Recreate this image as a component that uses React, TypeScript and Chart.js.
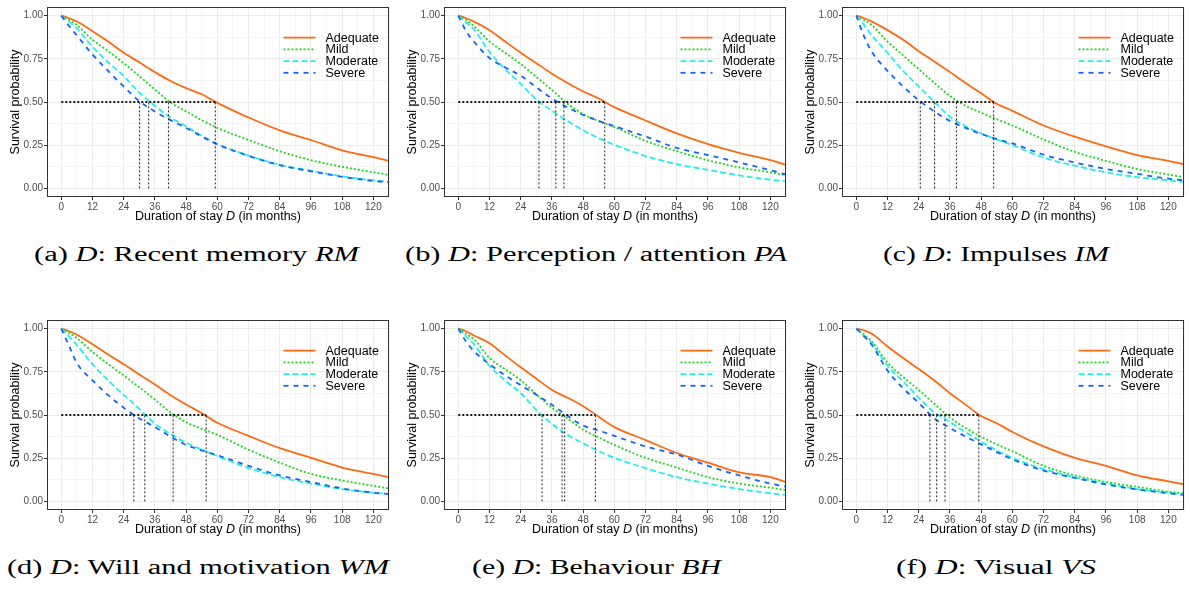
import React, { useEffect, useLayoutEffect, useRef } from 'react';
import { Chart, registerables } from 'chart.js';

Chart.register(...registerables);

// ---------- data ----------
const months = [0, 3, 6, 12, 18, 24, 30, 36, 42, 48, 54, 60, 72, 84, 96, 108, 120, 126];
const groups = ['Adequate', 'Mild', 'Moderate', 'Severe'];
const xMajorTicks = [0, 12, 24, 36, 48, 60, 72, 84, 96, 108, 120];
const yMajorTicks = [0, 0.25, 0.5, 0.75, 1];
const yAxisTitle = 'Survival probability';
const xAxisTitleParts: [string, boolean][] = [['Duration of stay ', false], ['D', true], [' (in months)', false]];

// (a) Recent memory RM
const rmAdequate = [1, 0.985, 0.966, 0.91, 0.85, 0.785, 0.73, 0.673, 0.622, 0.58, 0.545, 0.495, 0.41, 0.336, 0.28, 0.22, 0.181, 0.159];
const rmMild = [1, 0.975, 0.945, 0.86, 0.795, 0.725, 0.65, 0.572, 0.498, 0.445, 0.395, 0.35, 0.28, 0.215, 0.163, 0.125, 0.093, 0.078];
const rmModerate = [1, 0.965, 0.925, 0.82, 0.73, 0.65, 0.555, 0.478, 0.41, 0.36, 0.305, 0.257, 0.19, 0.137, 0.102, 0.07, 0.046, 0.038];
const rmSevere = [1, 0.94, 0.885, 0.775, 0.68, 0.59, 0.505, 0.445, 0.395, 0.35, 0.3, 0.255, 0.188, 0.134, 0.099, 0.067, 0.043, 0.035];
const rmMedians = [59.2, 41.2, 33.6, 30.1];

// (b) Perception / attention PA
const paAdequate = [1, 0.985, 0.965, 0.916, 0.85, 0.785, 0.725, 0.664, 0.61, 0.561, 0.52, 0.47, 0.393, 0.318, 0.256, 0.206, 0.163, 0.136];
const paMild = [1, 0.975, 0.94, 0.85, 0.785, 0.72, 0.645, 0.57, 0.49, 0.43, 0.39, 0.355, 0.275, 0.215, 0.163, 0.121, 0.093, 0.075];
const paModerate = [1, 0.96, 0.92, 0.79, 0.69, 0.605, 0.515, 0.449, 0.39, 0.336, 0.29, 0.252, 0.187, 0.14, 0.107, 0.075, 0.05, 0.041];
const paSevere = [1, 0.91, 0.85, 0.755, 0.7, 0.652, 0.585, 0.52, 0.468, 0.425, 0.39, 0.36, 0.3, 0.234, 0.193, 0.15, 0.105, 0.08];
const paMedians = [56.3, 40.6, 31.0, 37.5];

// (c) Impulses IM
const imAdequate = [1, 0.985, 0.965, 0.916, 0.86, 0.794, 0.735, 0.673, 0.61, 0.551, 0.49, 0.449, 0.364, 0.299, 0.243, 0.193, 0.159, 0.14];
const imMild = [1, 0.975, 0.945, 0.85, 0.77, 0.69, 0.61, 0.535, 0.478, 0.438, 0.4, 0.364, 0.283, 0.211, 0.159, 0.112, 0.08, 0.065];
const imModerate = [1, 0.945, 0.885, 0.785, 0.68, 0.59, 0.502, 0.415, 0.36, 0.318, 0.283, 0.25, 0.178, 0.131, 0.093, 0.065, 0.047, 0.037];
const imSevere = [1, 0.88, 0.79, 0.68, 0.59, 0.51, 0.445, 0.39, 0.35, 0.315, 0.285, 0.26, 0.195, 0.15, 0.112, 0.084, 0.056, 0.047];
const imMedians = [52.8, 38.5, 30.1, 24.6];

// (d) Will and motivation WM
const wmAdequate = [1, 0.985, 0.965, 0.91, 0.85, 0.794, 0.735, 0.677, 0.615, 0.561, 0.51, 0.455, 0.379, 0.308, 0.252, 0.196, 0.159, 0.14];
const wmMild = [1, 0.975, 0.945, 0.865, 0.795, 0.729, 0.66, 0.589, 0.515, 0.458, 0.42, 0.385, 0.299, 0.224, 0.159, 0.121, 0.09, 0.075];
const wmModerate = [1, 0.955, 0.905, 0.794, 0.7, 0.617, 0.535, 0.449, 0.39, 0.34, 0.3, 0.262, 0.193, 0.14, 0.103, 0.071, 0.05, 0.041];
const wmSevere = [1, 0.9, 0.8, 0.7, 0.615, 0.542, 0.48, 0.43, 0.375, 0.327, 0.295, 0.267, 0.206, 0.15, 0.112, 0.075, 0.05, 0.043];
const wmMedians = [55.7, 43.0, 32.1, 27.9];

// (e) Behaviour BH
const bhAdequate = [1, 0.985, 0.96, 0.916, 0.845, 0.776, 0.71, 0.645, 0.6, 0.551, 0.49, 0.43, 0.355, 0.28, 0.224, 0.168, 0.14, 0.112];
const bhMild = [1, 0.97, 0.94, 0.83, 0.765, 0.701, 0.62, 0.542, 0.48, 0.415, 0.37, 0.327, 0.252, 0.196, 0.14, 0.103, 0.079, 0.065];
const bhModerate = [1, 0.955, 0.91, 0.785, 0.7, 0.626, 0.53, 0.449, 0.385, 0.336, 0.29, 0.252, 0.192, 0.14, 0.103, 0.071, 0.047, 0.037];
const bhSevere = [1, 0.925, 0.87, 0.794, 0.73, 0.673, 0.617, 0.56, 0.495, 0.439, 0.41, 0.379, 0.318, 0.271, 0.206, 0.15, 0.103, 0.085];
const bhMedians = [52.7, 39.9, 32.2, 40.9];

// (f) Visual VS
const vsAdequate = [1, 0.99, 0.97, 0.897, 0.83, 0.766, 0.7, 0.626, 0.56, 0.494, 0.452, 0.402, 0.318, 0.252, 0.206, 0.15, 0.116, 0.099];
const vsMild = [1, 0.965, 0.925, 0.804, 0.72, 0.645, 0.565, 0.485, 0.425, 0.374, 0.33, 0.29, 0.206, 0.15, 0.112, 0.084, 0.056, 0.047];
const vsModerate = [1, 0.96, 0.915, 0.785, 0.695, 0.6, 0.515, 0.46, 0.4, 0.346, 0.295, 0.252, 0.187, 0.14, 0.103, 0.071, 0.05, 0.041];
const vsSevere = [1, 0.955, 0.905, 0.757, 0.655, 0.57, 0.48, 0.425, 0.375, 0.33, 0.285, 0.243, 0.178, 0.136, 0.098, 0.069, 0.047, 0.037];
const vsMedians = [47.1, 34.1, 30.9, 28.3];

type Part = [string, boolean];
const panels: { caption: Part[]; series: number[][]; medians: number[] }[] = [
  { caption: [['(a) ', false], ['D', true], [': Recent memory ', false], ['RM', true]], series: [rmAdequate, rmMild, rmModerate, rmSevere], medians: rmMedians },
  { caption: [['(b) ', false], ['D', true], [': Perception / attention ', false], ['PA', true]], series: [paAdequate, paMild, paModerate, paSevere], medians: paMedians },
  { caption: [['(c) ', false], ['D', true], [': Impulses ', false], ['IM', true]], series: [imAdequate, imMild, imModerate, imSevere], medians: imMedians },
  { caption: [['(d) ', false], ['D', true], [': Will and motivation ', false], ['WM', true]], series: [wmAdequate, wmMild, wmModerate, wmSevere], medians: wmMedians },
  { caption: [['(e) ', false], ['D', true], [': Behaviour ', false], ['BH', true]], series: [bhAdequate, bhMild, bhModerate, bhSevere], medians: bhMedians },
  { caption: [['(f) ', false], ['D', true], [': Visual ', false], ['VS', true]], series: [vsAdequate, vsMild, vsModerate, vsSevere], medians: vsMedians },
];

// ---------- styles / layout ----------
const groupColors = ['#FF6A10', '#1DD81D', '#22EEEE', '#1565F2'];
const groupDashes = [[], [2, 2], [6, 3], [5, 5]];
const SANS = '"Liberation Sans", Arial, Helvetica, sans-serif';
const colChartLeft = [47, 444, 842];
const rowCanvasTop = [0, 313];
const Y_AXIS_W = 47;
const CHART_W = 342;
const CANVAS_W = 392;
const CANVAS_H = 227;
const captionBoxes = [
  [34, 359, 244], [405, 787, 244], [883, 1109, 244],
  [7, 389, 557], [472, 721, 557], [896, 1096, 557],
];

const xAllTicks = [...xMajorTicks, ...xMajorTicks.map((v) => v + 6)].sort((a, b) => a - b);
const yAllTicks = [...yMajorTicks, ...yMajorTicks.map((v) => v + 0.125)].filter((v) => v <= 1.0001).sort((a, b) => a - b);
const isMajorX = (v: number) => xMajorTicks.includes(v);
const isMajorY = (v: number) => yMajorTicks.some((t) => Math.abs(t - v) < 1e-9);

const framePlugin = {
  id: 'frameAndXTitle',
  afterDraw(chart: any) {
    const { ctx, chartArea: a } = chart;
    ctx.save();
    ctx.setLineDash([]);
    ctx.strokeStyle = '#333333';
    ctx.lineWidth = 1;
    const l = Math.round(a.left) + 0.5;
    const t = Math.round(a.top) + 0.5;
    const r = Math.round(a.right) - 0.5;
    const b = Math.round(a.bottom) - 0.5;
    ctx.strokeRect(l, t, r - l, b - t);
    const fonts = xAxisTitleParts.map(([, it]) => `${it ? 'italic ' : ''}12.5px ${SANS}`);
    let total = 0;
    const widths = xAxisTitleParts.map(([txt], i) => {
      ctx.font = fonts[i];
      const w = ctx.measureText(txt).width;
      total += w;
      return w;
    });
    let x = (a.left + a.right) / 2 - total / 2;
    const y = a.bottom + 20;
    ctx.fillStyle = '#000';
    ctx.textBaseline = 'middle';
    ctx.textAlign = 'left';
    xAxisTitleParts.forEach(([txt], i) => {
      ctx.font = fonts[i];
      ctx.fillText(txt, x, y);
      x += widths[i];
    });
    ctx.restore();
  },
};

const legendPlugin = {
  id: 'insideLegend',
  afterDraw(chart: any) {
    const { ctx, chartArea: a } = chart;
    ctx.save();
    ctx.font = `12.5px ${SANS}`;
    ctx.textBaseline = 'middle';
    ctx.textAlign = 'left';
    chart.data.datasets.forEach((ds: any) => {
      const gi = groups.indexOf(ds.label);
      if (gi < 0) return;
      const y = a.top + 30.7 + 11.7 * gi;
      ctx.strokeStyle = ds.borderColor;
      ctx.lineWidth = ds.borderWidth;
      ctx.setLineDash(ds.borderDash || []);
      ctx.beginPath();
      ctx.moveTo(a.right - 105.5, y);
      ctx.lineTo(a.right - 73.5, y);
      ctx.stroke();
      ctx.setLineDash([]);
      ctx.fillStyle = '#000';
      ctx.fillText(ds.label, a.right - 63.5, y + 0.5);
    });
    ctx.restore();
  },
};

function Panel({ index }: { index: number }) {
  const ref = useRef<HTMLCanvasElement>(null);
  const cfg = panels[index];
  const col = index % 3;
  const row = Math.floor(index / 3);
  useEffect(() => {
    const canvas = ref.current;
    if (!canvas) return;
    const datasets: any[] = [];
    cfg.series.forEach((vals, gi) => {
      datasets.push({
        label: groups[gi],
        data: months.map((m, i) => ({ x: m, y: vals[i] })),
        borderColor: groupColors[gi],
        borderWidth: 1.8,
        borderDash: groupDashes[gi],
        pointRadius: 0,
        cubicInterpolationMode: 'monotone',
        fill: false,
        order: 4 - gi,
      });
    });
    const maxMed = Math.max(...cfg.medians);
    datasets.push({
      label: '_median_h',
      data: [{ x: 0, y: 0.5 }, { x: maxMed, y: 0.5 }],
      borderColor: '#000000',
      borderWidth: 1.8,
      borderDash: [2, 2],
      pointRadius: 0,
      order: 0,
    });
    cfg.medians.forEach((m) => {
      datasets.push({
        label: '_median_v',
        data: [{ x: m, y: 0 }, { x: m, y: 0.5 }],
        borderColor: '#222222',
        borderWidth: 1,
        borderDash: [2, 2],
        pointRadius: 0,
        order: 0,
      });
    });
    const chart = new Chart(canvas, {
      type: 'line',
      data: { datasets },
      options: {
        animation: false,
        responsive: false,
        maintainAspectRatio: false,
        devicePixelRatio: 1,
        events: [],
        layout: { padding: { top: 1, right: CANVAS_W - Y_AXIS_W - CHART_W, left: 0, bottom: 0 } },
        plugins: { legend: { display: false }, tooltip: { enabled: false }, title: { display: false } },
        scales: {
          x: {
            type: 'linear',
            min: -5.5,
            max: 126,
            afterBuildTicks: (axis: any) => {
              axis.ticks = xAllTicks.map((v) => ({ value: v }));
            },
            afterFit: (axis: any) => {
              axis.height = CANVAS_H - 1 - 196;
            },
            border: { display: false },
            grid: {
              drawTicks: true,
              tickLength: 3,
              lineWidth: 1,
              color: (c: any) => (isMajorX(c.tick?.value) ? '#EBEBEB' : '#F4F4F4'),
              tickColor: (c: any) => (isMajorX(c.tick?.value) ? '#333333' : 'rgba(0,0,0,0)'),
            },
            ticks: {
              autoSkip: false,
              maxRotation: 0,
              minRotation: 0,
              padding: 1,
              color: '#4D4D4D',
              font: { size: 10, family: SANS },
              callback: (v: any) => (isMajorX(Number(v)) ? String(v) : ''),
            },
            title: { display: false },
          },
          y: {
            type: 'linear',
            min: -0.05,
            max: 1.05,
            afterBuildTicks: (axis: any) => {
              axis.ticks = yAllTicks.map((v) => ({ value: v }));
            },
            afterFit: (axis: any) => {
              axis.width = Y_AXIS_W;
            },
            border: { display: false },
            grid: {
              drawTicks: true,
              tickLength: 3,
              lineWidth: 1,
              color: (c: any) => (isMajorY(c.tick?.value) ? '#EBEBEB' : '#F4F4F4'),
              tickColor: (c: any) => (isMajorY(c.tick?.value) ? '#333333' : 'rgba(0,0,0,0)'),
            },
            ticks: {
              autoSkip: false,
              padding: 1,
              color: '#4D4D4D',
              font: { size: 10, family: SANS },
              callback: (v: any) => (isMajorY(Number(v)) ? Number(v).toFixed(2) : ''),
            },
            title: {
              display: true,
              text: yAxisTitle,
              color: '#000000',
              font: { size: 12.5, family: SANS },
              padding: { top: 8, bottom: 0 },
            },
          },
        },
      } as any,
      plugins: [framePlugin, legendPlugin],
    });
    return () => chart.destroy();
  }, []);
  return (
    <canvas
      ref={ref}
      width={CANVAS_W}
      height={CANVAS_H}
      style={{ position: 'absolute', left: colChartLeft[col] - Y_AXIS_W, top: rowCanvasTop[row], width: CANVAS_W, height: CANVAS_H }}
    />
  );
}

function Caption({ index }: { index: number }) {
  const ref = useRef<HTMLDivElement>(null);
  const [left, right, top] = captionBoxes[index];
  useLayoutEffect(() => {
    const el = ref.current;
    if (!el) return;
    el.style.transform = 'none';
    const w = el.getBoundingClientRect().width;
    if (w > 0) el.style.transform = `scaleX(${(right - left) / w})`;
  }, []);
  return (
    <div
      ref={ref}
      style={{
        position: 'absolute',
        left,
        top,
        fontFamily: '"Liberation Serif", "Times New Roman", serif',
        fontSize: 20,
        lineHeight: '20px',
        whiteSpace: 'nowrap',
        transformOrigin: '0 0',
        color: '#000',
      }}
    >
      {panels[index].caption.map(([t, it], i) => (
        <span key={i} style={{ fontStyle: it ? 'italic' : 'normal' }}>
          {t}
        </span>
      ))}
    </div>
  );
}

export default function App() {
  return (
    <div style={{ position: 'absolute', left: 0, top: 0, width: 1190, height: 595, background: '#fff', overflow: 'hidden' }}>
      {panels.map((_, i) => (
        <Panel key={`p${i}`} index={i} />
      ))}
      {panels.map((_, i) => (
        <Caption key={`c${i}`} index={i} />
      ))}
    </div>
  );
}
